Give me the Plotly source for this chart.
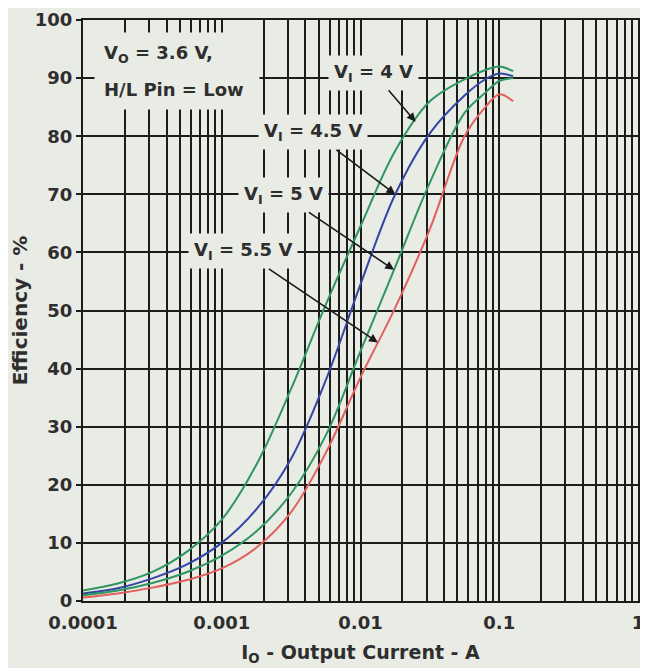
import plotly.graph_objects as go
import numpy as np

# ---- data ----
current_a = [0.0001, 0.000178, 0.000316, 0.000562, 0.001, 0.00178, 0.00316, 0.00562,
             0.01, 0.0178, 0.0316, 0.0562, 0.0794, 0.1, 0.126]
eff_vi_4v = [1.8, 3.0, 5.0, 8.5, 14.0, 23.5, 36.5, 51, 64.5, 77.5, 86, 89.8, 91.4, 92, 91.2]
eff_vi_45v = [1.3, 2.2, 3.9, 6.3, 10.0, 15.8, 24.5, 38, 54.5, 70, 80.5, 87, 89.8, 90.8, 90.3]
eff_vi_5v = [1.0, 1.8, 3.1, 5.0, 7.8, 12.0, 18.5, 28.5, 43, 57.5, 72, 84, 87.5, 89.5, 90.0]
eff_vi_55v = [0.6, 1.3, 2.3, 3.6, 5.6, 9.2, 15.3, 25.5, 38.5, 50.5, 64, 80, 85, 87.2, 86.0]

x_tickvals = [0.0001, 0.001, 0.01, 0.1, 1]
x_ticktext = ["0.0001", "0.001", "0.01", "0.1", "1"]
y_tickvals = [0, 10, 20, 30, 40, 50, 60, 70, 80, 90, 100]

# label, efficiency values, colour, efficiency at arrow tip, label offset from tip (px)
series = [
    ("V<sub>I</sub> = 4 V", eff_vi_4v, "#2f9660", 82.5, (-42, -49)),
    ("V<sub>I</sub> = 4.5 V", eff_vi_45v, "#3346a6", 70.0, (-82, -62)),
    ("V<sub>I</sub> = 5 V", eff_vi_5v, "#2f9660", 57.0, (-111, -75)),
    ("V<sub>I</sub> = 5.5 V", eff_vi_55v, "#e3605c", 44.5, (-135, -91)),
]

BG = "#e9ebe5"
TXT = "#2e2e2e"
GRID = "#1c1c1c"
FONT = "DejaVu Sans"

fig = go.Figure()
for name, effs, col, _, _ in series:
    fig.add_trace(go.Scatter(x=current_a, y=effs, mode="lines", name=name,
                             line=dict(color=col, width=2, shape="spline", smoothing=1.0),
                             showlegend=False))

annotations = []
logx = np.log10(current_a)
for name, effs, col, tip_eff, off in series:
    k = int(np.argmax(effs)) + 1
    tip_log = float(np.interp(tip_eff, effs[:k], logx[:k]))
    annotations.append(dict(x=tip_log, y=tip_eff, xref="x", yref="y",
                            text="<b>" + name + "</b>",
                            showarrow=True, arrowhead=2, arrowsize=1.1, arrowwidth=1.6,
                            arrowcolor="#1a1a1a", ax=off[0], ay=off[1],
                            bgcolor=BG, borderpad=5,
                            font=dict(family=FONT, size=18, color=TXT)))

# condition text block (two lines, wide spacing, on boxes that hide the grid)
for txt, yv in [("<b>V<sub>O</sub> = 3.6 V,</b>", 94.2), ("<b>H/L Pin = Low</b>", 88.0)]:
    annotations.append(dict(x=-3.92, y=yv, xref="x", yref="y", xanchor="left", yanchor="middle",
                            align="left", text=txt, width=146,
                            showarrow=False, bgcolor=BG, borderpad=9,
                            font=dict(family=FONT, size=18, color=TXT)))

fig.update_layout(
    width=648, height=668,
    margin=dict(l=75, r=18, t=12, b=75),
    paper_bgcolor=BG, plot_bgcolor=BG,
    font=dict(family=FONT, size=18, color=TXT),
    annotations=annotations,
)
fig.update_xaxes(type="log", range=[-4, 0], automargin=False,
                 tickvals=x_tickvals, ticktext=["<b>%s</b>" % t for t in x_ticktext],
                 tickfont=dict(family=FONT, size=18, color=TXT),
                 ticklabelstandoff=4,
                 showgrid=True, gridcolor=GRID, gridwidth=2,
                 minor=dict(showgrid=True, gridcolor=GRID, gridwidth=2, dtick="D1", ticks=""),
                 showline=True, linecolor=GRID, linewidth=2, mirror=True,
                 zeroline=False, ticks="",
                 title=dict(text="<b>I<sub>O</sub> - Output Current - A</b>",
                            font=dict(family=FONT, size=19, color=TXT), standoff=14))
fig.update_yaxes(range=[0, 100], tickvals=y_tickvals, automargin=False,
                 ticktext=["<b>%d</b>" % v for v in y_tickvals],
                 tickfont=dict(family=FONT, size=18, color=TXT),
                 showgrid=True, gridcolor=GRID, gridwidth=2,
                 showline=True, linecolor=GRID, linewidth=2, mirror=True,
                 zeroline=False, ticks="outside", ticklen=5, tickwidth=2, tickcolor=GRID,
                 title=dict(text="<b>Efficiency - %</b>",
                            font=dict(family=FONT, size=20, color=TXT), standoff=3))

fig.write_html("out.html")
